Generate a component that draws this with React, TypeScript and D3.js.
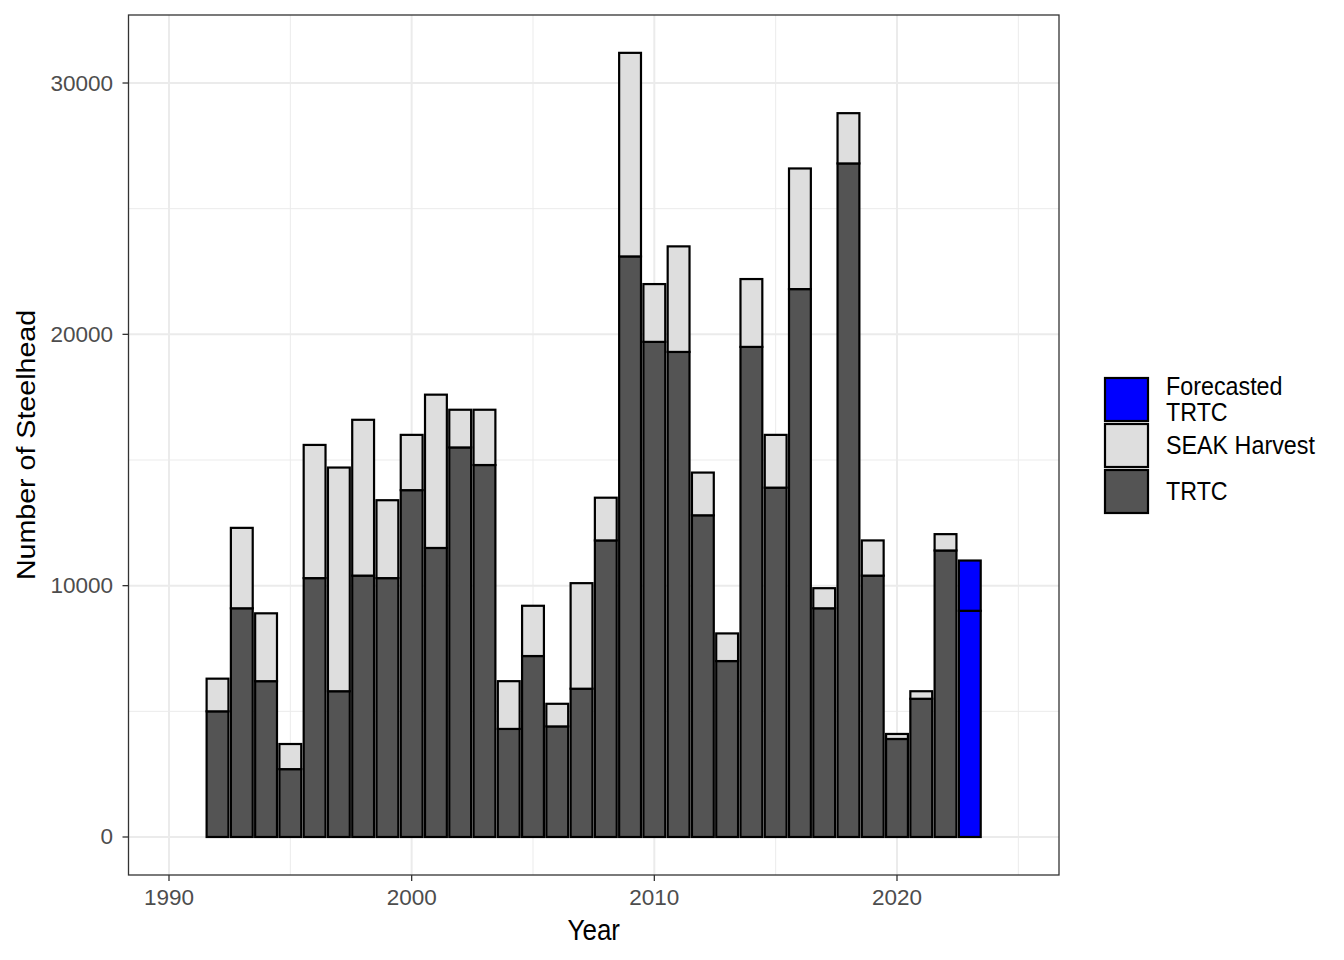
import React from "react";
import * as d3 from "d3";

const years = [1992,1993,1994,1995,1996,1997,1998,1999,2000,2001,2002,2003,2004,2005,2006,2007,2008,2009,2010,2011,2012,2013,2014,2015,2016,2017,2018,2019,2020,2021,2022];
const trtc = [5000,9100,6200,2700,10300,5800,10400,10300,13800,11500,15500,14800,4300,7200,4400,5900,11800,23100,19700,19300,12800,7000,19500,13900,21800,9100,26800,10400,3900,5500,11400];
const seakHarvest = [1300,3200,2700,1000,5300,8900,6200,3100,2200,6100,1500,2200,1900,2000,900,4200,1700,8100,2300,4200,1700,1100,2700,2100,4800,800,2000,1400,200,300,650];
const forecastYear = 2023;
const forecastSegments = [9000, 2000];

const xTicks = [1990, 2000, 2010, 2020];
const xMinor = [1995, 2005, 2015, 2025];
const yTicks = [0, 10000, 20000, 30000];
const yMinor = [5000, 15000, 25000];
const legendItems = [
  { lines: ["Forecasted", "TRTC"], fill: "#0000FF" },
  { lines: ["SEAK Harvest"], fill: "#DEDEDE" },
  { lines: ["TRTC"], fill: "#545454" },
];

const W = 1344, H = 960;
const left = 128.5, right = 1059, top = 15, bottom = 875;
const FONT = "'Liberation Sans', Arial, Helvetica, sans-serif";
const SY = 1.1;

export default function App() {
  const x = d3.scaleLinear().domain([1988.331, 2026.676]).range([left, right]);
  const y = d3.scaleLinear().domain([-1512, 32706]).range([bottom, top]);
  const bw = (x(1) - x(0)) * 0.9;

  type Seg = { key: string; x0: number; y0: number; y1: number; fill: string };
  const segs: Seg[] = [];
  years.forEach((yr, i) => {
    segs.push({ key: `t${yr}`, x0: x(yr) - bw / 2, y0: 0, y1: trtc[i], fill: "#545454" });
    segs.push({ key: `s${yr}`, x0: x(yr) - bw / 2, y0: trtc[i], y1: trtc[i] + seakHarvest[i], fill: "#DEDEDE" });
  });
  let acc = 0;
  forecastSegments.forEach((v, j) => {
    segs.push({ key: `f${j}`, x0: x(forecastYear) - bw / 2, y0: acc, y1: acc + v, fill: "#0000FF" });
    acc += v;
  });

  const keyX = 1105, keyY0 = 378, keyStep = 46, keySize = 43;

  return (
    <svg width={W} height={H} style={{ display: "block", position: "absolute", left: 0, top: 0 }} fontFamily={FONT}>
      <rect x={0} y={0} width={W} height={H} fill="#fff" />
      {/* grid */}
      {yMinor.map((v) => (
        <line key={`ym${v}`} x1={left} x2={right} y1={y(v)} y2={y(v)} stroke="#EBEBEB" strokeWidth={1} />
      ))}
      {xMinor.map((v) => (
        <line key={`xm${v}`} y1={top} y2={bottom} x1={x(v)} x2={x(v)} stroke="#EBEBEB" strokeWidth={1} />
      ))}
      {yTicks.map((v) => (
        <line key={`yM${v}`} x1={left} x2={right} y1={y(v)} y2={y(v)} stroke="#EBEBEB" strokeWidth={2} />
      ))}
      {xTicks.map((v) => (
        <line key={`xM${v}`} y1={top} y2={bottom} x1={x(v)} x2={x(v)} stroke="#EBEBEB" strokeWidth={2} />
      ))}
      {/* bars */}
      {segs.map((s) => (
        <rect key={s.key} x={s.x0} width={bw} y={y(s.y1)} height={y(s.y0) - y(s.y1)} fill={s.fill} stroke="#000" strokeWidth={2.2} />
      ))}
      {/* panel border */}
      <rect x={left} y={top} width={right - left} height={bottom - top} fill="none" stroke="#333333" strokeWidth={1.3} />
      {/* y axis */}
      {yTicks.map((v) => (
        <g key={`yt${v}`}>
          <line x1={left - 6} x2={left} y1={y(v)} y2={y(v)} stroke="#333333" strokeWidth={1.3} />
          <text x={113} y={y(v)} textAnchor="end" dominantBaseline="central" fontSize={22.5} fill="#4D4D4D">{v}</text>
        </g>
      ))}
      {/* x axis */}
      {xTicks.map((v) => (
        <g key={`xt${v}`}>
          <line x1={x(v)} x2={x(v)} y1={bottom} y2={bottom + 6} stroke="#333333" strokeWidth={1.3} />
          <text x={x(v)} y={905} textAnchor="middle" fontSize={22.5} fill="#4D4D4D">{v}</text>
        </g>
      ))}
      <g transform={`translate(${(left + right) / 2},940) scale(1,${SY})`}>
        <text textAnchor="middle" fontSize={26} fill="#000">Year</text>
      </g>
      <g transform={`translate(35,${(top + bottom) / 2}) rotate(-90) scale(${SY},1)`}>
        <text textAnchor="middle" fontSize={26} fill="#000">Number of Steelhead</text>
      </g>
      {/* legend */}
      {legendItems.map((it, i) => {
        const ky = keyY0 + i * keyStep;
        const cy = ky + keySize / 2;
        return (
          <g key={`lg${i}`}>
            <rect x={keyX} y={ky} width={keySize} height={keySize} fill={it.fill} stroke="#000" strokeWidth={2.2} />
            {it.lines.length === 1 ? (
              <g transform={`translate(1166,${cy + 8}) scale(1,${SY})`}>
                <text fontSize={23.3} fill="#000">{it.lines[0]}</text>
              </g>
            ) : (
              it.lines.map((ln, j) => (
                <g key={j} transform={`translate(1166,${395 + j * 25.5}) scale(1,${SY})`}>
                  <text fontSize={23.3} fill="#000">{ln}</text>
                </g>
              ))
            )}
          </g>
        );
      })}
    </svg>
  );
}
